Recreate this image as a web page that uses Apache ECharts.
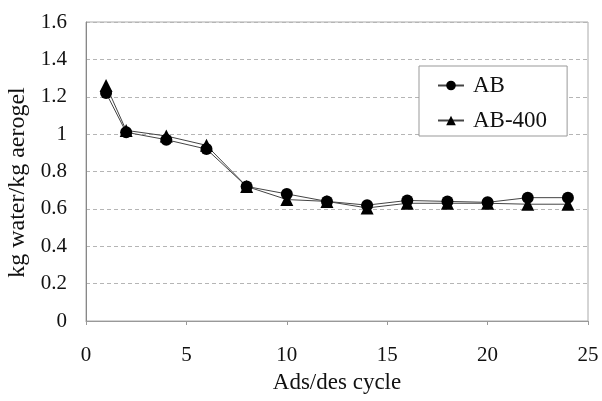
<!DOCTYPE html>
<html>
<head>
<meta charset="utf-8">
<script src="https://cdn.jsdelivr.net/npm/echarts@6/dist/echarts.min.js"></script>
<style>html,body{margin:0;padding:0;background:#fff}#c{width:602px;height:401px}</style>
</head>
<body>
<div id="c"></div>
<script>
const cycles = [1, 2, 4, 6, 8, 10, 12, 14, 16, 18, 20, 22, 24];
const abValues = [1.22, 1.01, 0.97, 0.92, 0.72, 0.68, 0.64, 0.62, 0.645, 0.64, 0.635, 0.66, 0.66];
const ab400Values = [1.26, 1.02, 0.99, 0.94, 0.72, 0.65, 0.64, 0.605, 0.63, 0.63, 0.63, 0.625, 0.625];
const seriesNames = ['AB', 'AB-400'];
const xTitle = 'Ads/des cycle';
const yTitle = 'kg water/kg aerogel';

const font = 'Liberation Serif, Times New Roman, serif';
const chart = echarts.init(document.getElementById('c'), null, {renderer: 'canvas'});
chart.setOption({
  animation: false,
  backgroundColor: '#fff',
  grid: {left: 86, right: 14, top: 22, bottom: 80, show: true, borderColor: '#aaa', borderWidth: 1,
    containLabel: false, outerBoundsMode: 'none'},
  legend: {
    left: 419, top: 66, orient: 'vertical',
    backgroundColor: '#fff', borderColor: '#999', borderWidth: 1,
    padding: [8, 20, 4, 18], itemGap: 12, itemWidth: 26, itemHeight: 12,
    textStyle: {fontFamily: font, fontSize: 23, color: '#111', padding: [0, 0, 0, 4]},
    data: seriesNames
  },
  xAxis: {
    type: 'value', min: 0, max: 25, interval: 5,
    name: xTitle, nameLocation: 'middle', nameGap: 50,
    nameTextStyle: {fontFamily: font, fontSize: 23, color: '#111'},
    axisLine: {show: true, lineStyle: {color: '#999'}},
    axisTick: {show: true, length: 4, lineStyle: {color: '#999'}},
    axisLabel: {fontFamily: font, fontSize: 21, color: '#111', margin: 24},
    splitLine: {show: false}
  },
  yAxis: {
    type: 'value', min: 0, max: 1.6, interval: 0.2,
    name: yTitle, nameLocation: 'middle', nameGap: 47,
    nameTextStyle: {fontFamily: font, fontSize: 24, color: '#111', padding: [0, 22, 0, 0]},
    axisLine: {show: true, lineStyle: {color: '#888'}},
    axisTick: {show: false},
    axisLabel: {fontFamily: font, fontSize: 21, color: '#111', margin: 19,
      formatter: v => (Math.round(v * 10) / 10).toString()},
    splitLine: {show: true, lineStyle: {color: '#b5b5b5', type: [4, 3], width: 1}}
  },
  series: [
    {
      name: seriesNames[0], type: 'line',
      data: cycles.map((c, i) => [c, abValues[i]]),
      symbol: 'circle', symbolSize: 12,
      itemStyle: {color: '#000'},
      lineStyle: {color: '#444', width: 1}
    },
    {
      name: seriesNames[1], type: 'line',
      data: cycles.map((c, i) => [c, ab400Values[i]]),
      symbol: 'triangle', symbolSize: 13,
      itemStyle: {color: '#000'},
      lineStyle: {color: '#444', width: 1}
    }
  ]
});
</script>
</body>
</html>
